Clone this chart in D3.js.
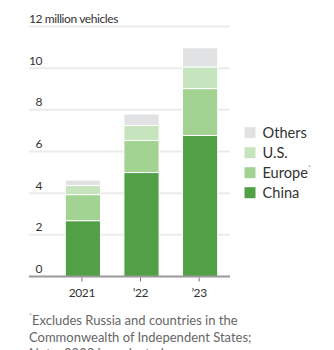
<!DOCTYPE html>
<html>
<head>
<meta charset="utf-8">
<script src="https://cdn.jsdelivr.net/npm/d3@7"></script>
<style>
  html, body { margin: 0; padding: 0; background: #fff; }
  svg { display: block; font-family: Lato, "Noto Sans", sans-serif; }
</style>
</head>
<body>
<svg id="chart" width="334" height="350"></svg>
<script>
// Global EV sales by region, million vehicles
const years = ["2021", "’22", "’23"];
const china = [2.68, 4.99, 6.77];
const europe = [1.25, 1.54, 2.25];
const us = [0.44, 0.72, 1.04];
const others = [0.26, 0.55, 0.92];
const yTicks = [0, 2, 4, 6, 8, 10, 12];

const seriesNames = ["China", "Europe", "U.S.", "Others"];
const colors = { "China": "#52a046", "Europe": "#a2d392", "U.S.": "#c6e4bd", "Others": "#e1e2e4" };

const rows = years.map((y, i) => ({ year: y, "China": china[i], "Europe": europe[i], "U.S.": us[i], "Others": others[i] }));
const stacked = d3.stack().keys(seriesNames)(rows);

const svg = d3.select("#chart");
const left = 29, right = 230;

const y = d3.scaleLinear().domain([0, 12]).range([276.5, 26.5]);
const x = d3.scaleBand().domain(years).range([65.3, 217.7]).paddingInner(0.4).paddingOuter(0);

// gridlines and value labels
const grid = svg.append("g");
grid.selectAll("line").data(yTicks.filter(d => d > 0)).join("line")
  .attr("x1", left).attr("x2", right)
  .attr("y1", d => y(d)).attr("y2", d => y(d))
  .attr("stroke", "#ebebeb").attr("stroke-width", 2);
grid.selectAll("text").data(yTicks).join("text")
  .attr("x", d => d === 12 ? left : 42)
  .attr("y", d => y(d) - 3.5)
  .attr("text-anchor", d => d === 12 ? "start" : "end")
  .attr("font-size", 12).attr("fill", "#333")
  .attr("letter-spacing", -0.4)
  .text(d => d === 12 ? "12 million vehicles" : d);

// stacked bars
svg.append("g").selectAll("g").data(stacked).join("g")
  .attr("fill", d => colors[d.key])
  .selectAll("rect").data(d => d).join("rect")
  .attr("x", d => x(d.data.year))
  .attr("width", x.bandwidth())
  .attr("y", d => y(d[1]))
  .attr("height", d => y(d[0]) - y(d[1]))
  .attr("stroke", "#fff").attr("stroke-width", 1);

// baseline and x axis
const xAxis = svg.append("g").attr("transform", `translate(0,${y(0)})`);
xAxis.append("line").attr("x1", left).attr("x2", right)
  .attr("stroke", "#999").attr("stroke-width", 2);
xAxis.selectAll(".tick").data(years).join("line")
  .attr("x1", d => x(d) + x.bandwidth() / 2 - 1).attr("x2", d => x(d) + x.bandwidth() / 2 - 1)
  .attr("y1", 1).attr("y2", 5).attr("stroke", "#777").attr("stroke-width", 1);
xAxis.selectAll("text").data(years).join("text")
  .attr("x", d => x(d) + x.bandwidth() / 2 - 1)
  .attr("y", 20)
  .attr("text-anchor", "middle")
  .attr("font-size", 12).attr("fill", "#333").attr("letter-spacing", -0.4)
  .text(d => d);

// legend
const legendItems = ["Others", "U.S.", "Europe", "China"];
const legend = svg.append("g").selectAll("g").data(legendItems).join("g")
  .attr("transform", (d, i) => `translate(244.5,${132.7 + i * 20})`);
legend.append("rect").attr("x", 0).attr("y", -5.5).attr("width", 11).attr("height", 11)
  .attr("fill", d => colors[d]);
const lt = legend.append("text").attr("x", 18).attr("y", 5.5)
  .attr("font-size", 14.6).attr("fill", "#333");
lt.append("tspan").text(d => d);
lt.filter(d => d === "Europe").append("tspan")
  .attr("font-size", 7).attr("dy", -7).attr("fill", "#aaa").text("*");

// footnote
const notes = ["Excludes Russia and countries in the", "Commonwealth of Independent States;", "Note: 2023 is projected."];
const fn = svg.append("g").attr("font-size", 13).attr("fill", "#666");
notes.forEach((t, i) => {
  const tx = fn.append("text").attr("x", 29).attr("y", 325 + i * 16.7);
  if (i === 0) tx.append("tspan").attr("font-size", 7).attr("dy", -6).attr("fill", "#aaa").text("*");
  tx.append("tspan").attr("dy", i === 0 ? 6 : 0).text(t);
});
</script>
</body>
</html>
